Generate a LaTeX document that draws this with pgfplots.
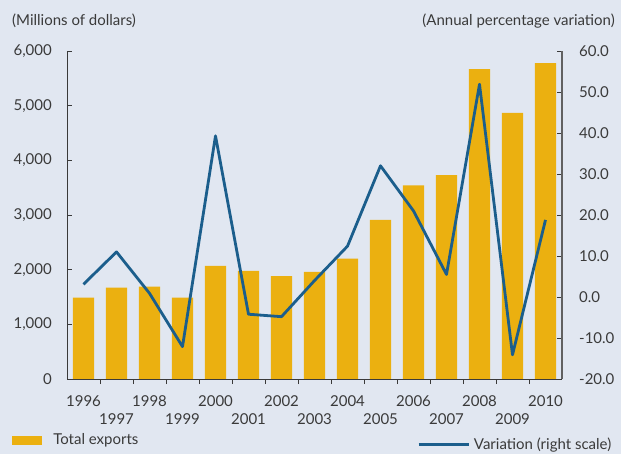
\documentclass[border=0pt]{standalone}
\usepackage{pgfplots}
\pgfplotsset{compat=1.18}
\usepackage{fontspec}
\setmainfont{Lato}
\definecolor{bgcol}{HTML}{E1E7F1}
\definecolor{barcol}{HTML}{EBB010}
\definecolor{linecol}{HTML}{1B5E8C}
\definecolor{axcol}{HTML}{3A3A3A}
\definecolor{txtcol}{HTML}{3A3A3A}
\begin{document}
\fontsize{15bp}{17bp}\selectfont
\begin{tikzpicture}[font=\fontsize{15bp}{17bp}\selectfont, text=txtcol]
\fill[bgcol] (-67bp,-75bp) rectangle (554bp,379bp);
\begin{axis}[
  scale only axis, width=495bp, height=328bp,
  xmin=-0.5, xmax=14.5, ymin=0, ymax=6000,
  axis x line*=bottom, axis y line*=left,
  axis line style={-, axcol, line width=0.9bp},
  tick style={axcol, line width=0.8bp},
  tick align=inside,
  xtick={0,2,...,14},
  xticklabels={1996,1998,2000,2002,2004,2006,2008,2010},
  extra x ticks={1,3,...,13},
  extra x tick labels={1997,1999,2001,2003,2005,2007,2009},
  extra x tick style={major tick length=0pt, xticklabel style={yshift=-23bp}},
  major x tick style={draw=none},
  minor xtick={0.5,1.5,...,13.5},
  minor tick length=5bp,
  xticklabel style={inner sep=0pt, yshift=-11bp, text=txtcol},
  ytick={0,1000,...,6000},
  yticklabels={0,{1,000},{2,000},{3,000},{4,000},{5,000},{6,000}},
  major tick length=5bp,
  yticklabel style={inner sep=0pt, xshift=-15bp, text=txtcol},
  ybar, bar width=0.64, bar shift=0pt,
  legend style={draw=none, fill=none, at={(rel axis cs:-0.111,-0.1875)}, anchor=west, inner sep=0pt, nodes={inner sep=0pt, text=txtcol}},
  legend image code/.code={\fill[barcol] (0bp,-4.5bp) rectangle (30bp,4.5bp); \path (41bp,0bp);},
]
\addplot[fill=barcol, draw=none] coordinates {
(0,1490) (1,1670) (2,1690) (3,1490) (4,2070) (5,1980) (6,1880) (7,1960)
(8,2200) (9,2910) (10,3540) (11,3730) (12,5670) (13,4870) (14,5780)};
\addlegendentry{Total exports}
\end{axis}
\begin{axis}[
  scale only axis, width=495bp, height=328bp,
  xmin=-0.5, xmax=14.5, ymin=-20, ymax=60,
  axis x line=none, axis y line*=right,
  axis line style={-, axcol!80, line width=1.2bp},
  tick style={axcol, line width=0.8bp},
  tick align=inside, major tick length=5bp,
  ytick={-20,-10,...,60},
  yticklabels={-20.0,-10.0,0.0,10.0,20.0,30.0,40.0,50.0,60.0},
  yticklabel style={inner sep=0pt, xshift=17bp, anchor=west, text=txtcol},
  legend style={draw=none, fill=none, at={(rel axis cs:1.100,-0.200)}, anchor=east, inner sep=0pt, nodes={inner sep=0pt, text=txtcol}},
  legend image code/.code={\draw[linecol, line width=2.8bp] (0bp,0bp) -- (50bp,0bp); \path (54bp,0bp);},
]
\addplot[linecol, line width=2.8bp, line join=round, mark=none] coordinates {
(0,3.1) (1,11.0) (2,0.9) (3,-12.1) (4,39.3) (5,-4.2) (6,-4.8) (7,4.0)
(8,12.4) (9,32.0) (10,21.0) (11,5.5) (12,51.9) (13,-14.1) (14,18.8)};
\addlegendentry{Variation (right scale)}
\end{axis}
\node[anchor=west, inner sep=0pt] at (-55bp,358bp) {(Millions of dollars)};
\node[anchor=east, inner sep=0pt] at (548bp,358bp) {(Annual percentage variation)};
\pgfresetboundingbox
\path (-67bp,-75bp) rectangle (554bp,379bp);
\end{tikzpicture}
\end{document}
